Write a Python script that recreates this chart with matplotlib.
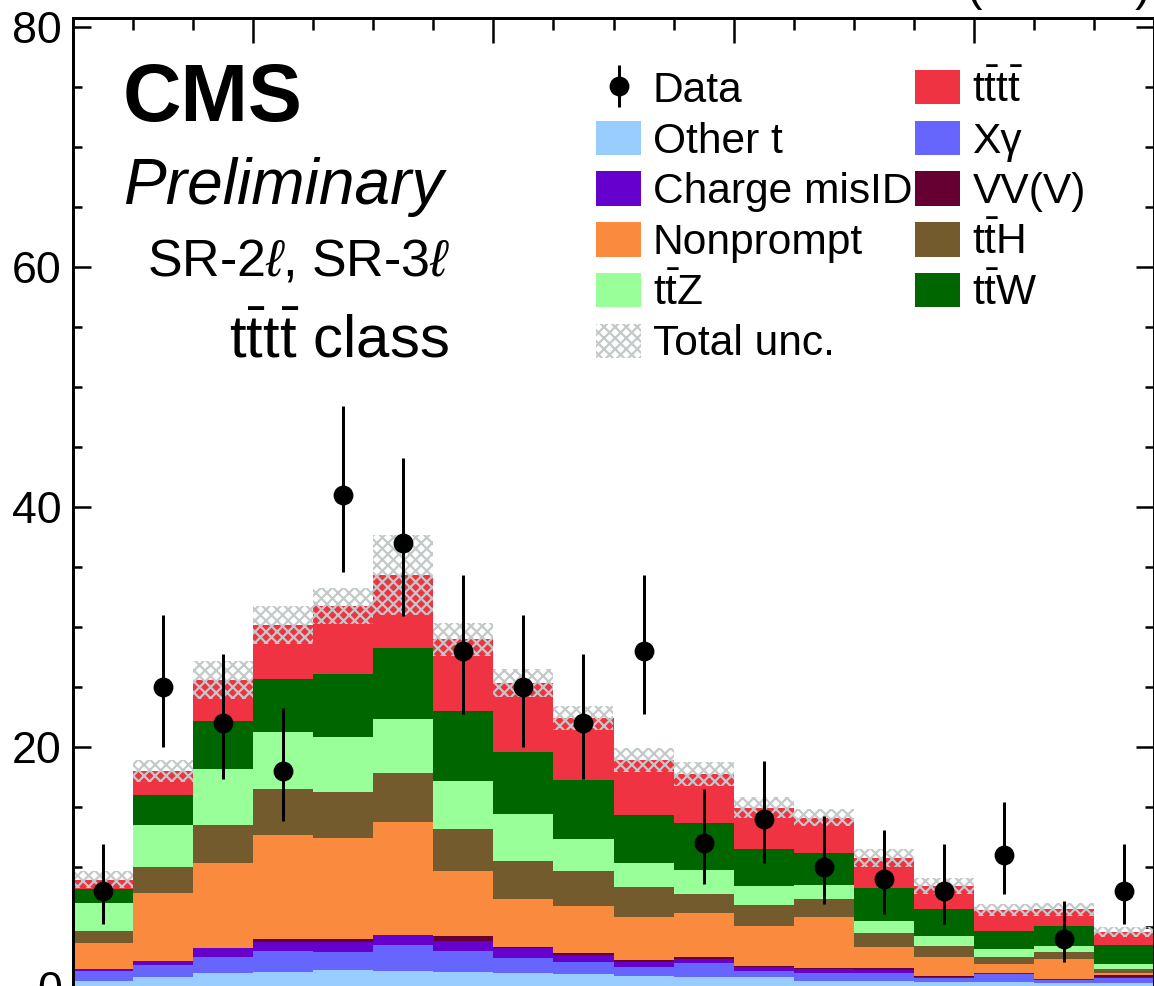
import numpy as np
import matplotlib
matplotlib.use("Agg")
import matplotlib.pyplot as plt
from matplotlib.ticker import MultipleLocator

W, H, DPI = 1154, 986, 133
PT = 72.0 / DPI  # points per pixel

plt.rcParams['font.family'] = ['Liberation Sans', 'DejaVu Sans']
plt.rcParams['mathtext.fontset'] = 'custom'
plt.rcParams['mathtext.rm'] = 'Liberation Sans'
plt.rcParams['mathtext.it'] = 'Liberation Sans:italic'
plt.rcParams['mathtext.bf'] = 'Liberation Sans:bold'
plt.rcParams['hatch.linewidth'] = 2.2 * PT

# ---------------- data ----------------
n_bins = 18
other_t = [0.53, 0.81, 1.14, 1.28, 1.42, 1.33, 1.28, 1.14, 1.08, 0.94, 0.86, 0.81, 0.53, 0.53, 0.44, 0.44, 0.36, 0.31]
xgamma = [0.83, 1.02, 1.33, 1.75, 1.52, 2.17, 1.75, 1.30, 1.03, 0.75, 1.17, 0.52, 0.61, 0.61, 0.28, 0.64, 0.22, 0.41]
charge_misid = [0.11, 0.34, 0.75, 0.75, 0.84, 0.83, 0.80, 0.78, 0.56, 0.42, 0.30, 0.31, 0.33, 0.28, 0.14, 0.11, 0.09, 0.14]
vvv = [0.06, 0.00, 0.03, 0.19, 0.19, 0.02, 0.42, 0.14, 0.14, 0.17, 0.20, 0.08, 0.11, 0.16, 0.04, 0.01, 0.03, 0.14]
nonprompt = [2.16, 5.64, 7.06, 8.70, 8.42, 9.43, 5.44, 4.00, 3.97, 3.58, 3.61, 3.39, 4.28, 1.78, 1.63, 0.69, 1.63, 0.14]
tth = [1.00, 2.22, 3.19, 3.80, 3.89, 4.08, 3.50, 3.14, 2.89, 2.45, 1.64, 1.72, 1.45, 1.17, 0.91, 0.58, 0.61, 0.33]
ttz = [2.28, 3.47, 4.64, 4.81, 4.58, 4.45, 4.00, 3.92, 2.69, 2.05, 2.00, 1.61, 1.19, 0.97, 0.81, 0.70, 0.48, 0.45]
ttw = [1.17, 2.50, 4.05, 4.39, 5.25, 5.97, 5.81, 5.19, 4.89, 3.97, 3.91, 3.06, 2.64, 2.78, 2.25, 1.52, 1.66, 1.58]
tttt = [0.81, 2.00, 3.39, 4.50, 5.64, 6.05, 5.97, 5.70, 5.19, 4.59, 4.06, 3.44, 2.97, 2.50, 1.92, 1.73, 1.39, 1.11]
total_unc = [0.68, 0.90, 1.60, 1.55, 1.50, 3.35, 1.40, 1.15, 1.00, 0.97, 0.97, 0.87, 0.70, 0.75, 0.64, 0.47, 0.56, 0.42]

data = [8, 25, 22, 18, 41, 37, 28, 25, 22, 28, 12, 14, 10, 9, 8, 11, 4, 8]
data_err_lo = [2.77, 4.97, 4.66, 4.20, 6.38, 6.06, 5.27, 4.97, 4.66, 5.27, 3.41, 3.70, 3.11, 2.94, 2.77, 3.26, 1.91, 2.77]
data_err_hi = [3.94, 6.03, 5.73, 5.28, 7.45, 7.12, 6.33, 6.03, 5.73, 6.33, 4.54, 4.80, 4.26, 4.11, 3.94, 4.40, 3.16, 3.94]

process_labels = ["Other t", "X\u03b3", "Charge misID", "VV(V)", "Nonprompt",
                  r"$\mathrm{t\bar{t}H}$", r"$\mathrm{t\bar{t}Z}$", r"$\mathrm{t\bar{t}W}$",
                  r"$\mathrm{t\bar{t}t\bar{t}}$"]
process_colors = ["#99ccff", "#6666ff", "#6600cc", "#660033", "#fa8a3e",
                  "#735b2d", "#99ff99", "#006600", "#ef3343"]
process_values = [other_t, xgamma, charge_misid, vvv, nonprompt, tth, ttz, ttw, tttt]

# ---------------- figure ----------------
fig = plt.figure(figsize=(W / DPI, H / DPI), dpi=DPI)
ax_l, ax_r, ax_t, ax_b = 73, 1154, 18, 987
ax = fig.add_axes([ax_l / W, 1 - ax_b / H, (ax_r - ax_l) / W, (ax_b - ax_t) / H])

edges = np.arange(n_bins + 1)
left = edges[:-1]
centers = left + 0.5

bottom = np.zeros(n_bins)
containers = {}
for lab, col, vals in zip(process_labels, process_colors, process_values):
    vals = np.asarray(vals, float)
    c = ax.stairs(bottom + vals, edges, baseline=bottom, fill=True, color=col,
                  linewidth=0, antialiased=False, label=lab, zorder=2)
    containers[lab] = c
    bottom = bottom + vals
total = bottom
unc = np.asarray(total_unc)
hatch_c = ax.bar(left, 2 * unc, width=1.0, bottom=total - unc, align='edge',
                 fill=False, hatch='xxxx', edgecolor='#c2c9c8', linewidth=0,
                 label='Total unc.', zorder=3)

err = ax.errorbar(centers, data, yerr=[data_err_lo, data_err_hi], fmt='o',
                  color='black', ms=18 * PT, elinewidth=3 * PT, capsize=0,
                  label='Data', zorder=5)

ax.set_xlim(0, n_bins)
ax.set_ylim(0, 80.75)
ax.set_xticks([3, 7, 11, 15])
ax.set_xticks(np.arange(n_bins + 1), minor=True)
ax.set_yticks([0, 20, 40, 60, 80])
ax.yaxis.set_minor_locator(MultipleLocator(5))
ax.tick_params(which='both', direction='in', top=True, right=True,
               labelbottom=False, width=2.5 * PT, labelsize=44.7 * PT, pad=11 * PT)
ax.tick_params(axis='x', which='major', length=25 * PT)
ax.tick_params(axis='x', which='minor', length=12 * PT)
ax.tick_params(axis='y', which='major', length=18 * PT)
ax.tick_params(axis='y', which='minor', length=9 * PT)
for s in ax.spines.values():
    s.set_linewidth(3 * PT)
    s.set_zorder(10)


def fx(px):
    return px / W


def fy(py):
    return 1 - py / H


fig.text(fx(123), fy(121), "CMS", fontsize=81 * PT, fontweight='bold',
         ha='left', va='baseline')
fig.text(fx(123), fy(204), "Preliminary", fontsize=64 * PT, style='italic',
         ha='left', va='baseline')
fig.text(fx(450), fy(276), r"SR-2$\ell$, SR-3$\ell$", fontsize=52 * PT,
         ha='right', va='baseline')
fig.text(fx(449), fy(357), r"$\mathrm{t\bar{t}t\bar{t}}$ class", fontsize=60 * PT,
         ha='right', va='baseline')
fig.text(fx(1149), fy(1), r"138 fb$^{-1}$ (13 TeV)", fontsize=47 * PT,
         ha='right', va='baseline')

# legend
handles = [err, containers["Other t"], containers["Charge misID"], containers["Nonprompt"],
           containers[r"$\mathrm{t\bar{t}Z}$"], hatch_c,
           containers[r"$\mathrm{t\bar{t}t\bar{t}}$"], containers["X\u03b3"],
           containers["VV(V)"], containers[r"$\mathrm{t\bar{t}H}$"],
           containers[r"$\mathrm{t\bar{t}W}$"]]
labels = ["Data", "Other t", "Charge misID", "Nonprompt", r"$\mathrm{t\bar{t}Z}$", "Total unc.",
          r"$\mathrm{t\bar{t}t\bar{t}}$", "X\u03b3", "VV(V)", r"$\mathrm{t\bar{t}H}$",
          r"$\mathrm{t\bar{t}W}$"]
fs = 42.5
leg = ax.legend(handles, labels, ncol=2, loc='upper left',
                bbox_to_anchor=((596 - ax_l) / (ax_r - ax_l), (ax_b - 70) / (ax_b - ax_t)),
                frameon=False, borderpad=0, borderaxespad=0, fontsize=fs * PT,
                handlelength=45 / fs, handleheight=37 / fs, handletextpad=12 / fs,
                labelspacing=0.23, columnspacing=0.07)

fig.savefig("out.png", dpi=DPI)
